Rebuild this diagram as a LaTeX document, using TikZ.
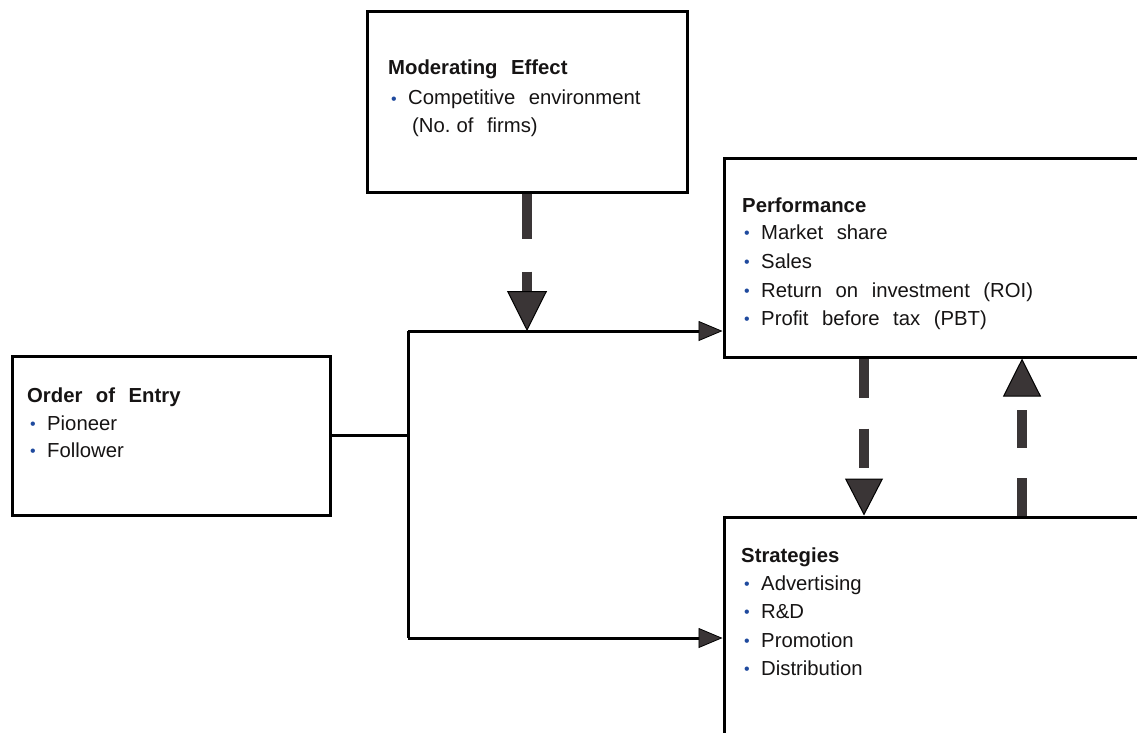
\documentclass[tikz,border=0pt]{standalone}
\usepackage{fontspec}
\setmainfont[WordSpace=2.4]{Liberation Sans}
\usetikzlibrary{arrows.meta}
\frenchspacing
\definecolor{ink}{HTML}{161414}
\definecolor{bul}{HTML}{1F4A9E}
\definecolor{shaft}{HTML}{3A3536}
\newcommand{\bul}{\makebox[17pt][l]{\fontsize{16}{16}\selectfont\color{bul}\raisebox{0.5pt}{•}}}
\begin{document}
\begin{tikzpicture}[x=1pt,y=-1pt,
  box/.style={draw=black,line width=3pt,fill=white,inner sep=0pt},
  txt/.style={anchor=base west,inner sep=0pt,text=ink,font=\fontsize{20.3}{24}\selectfont},
  thinarrow/.style={draw=black,line width=3pt,-{Triangle[width=20pt,length=24pt,line width=0.8pt,color=black,fill=shaft]}},
  thinline/.style={draw=black,line width=3pt},
  thickarrow/.style={draw=shaft,line width=10pt,-{Triangle[width=40pt,length=40pt,line width=1pt,color=black,fill=shaft]}}]
\useasboundingbox (0,0) rectangle (1137,733);
\clip (0,0) rectangle (1137,733);
% boxes
\node[box,minimum width=320pt,minimum height=180pt] (mod) at (527,102) {};
\node[box,minimum width=446pt,minimum height=199pt] (perf) at (947,257.5) {};
\node[box,minimum width=318pt,minimum height=159pt] (order) at (171,435.5) {};
\node[box,minimum width=446pt,minimum height=263pt] (strat) at (947,648.5) {};
% texts
\node[txt] (m1) at (388,75) {\textbf{Moderating Effect}};
\node[txt] (m2) at (391,105) {\bul Competitive environment};
\node[txt] (m3) at (412,132) {(No.\hspace{6pt}of firms)};
\node[txt] (p1) at (742,212) {\textbf{Performance}};
\node[txt] (p2) at (744,239) {\bul Market share};
\node[txt] (p3) at (744,268) {\bul Sales};
\node[txt] (p4) at (744,297) {\bul Return on investment (ROI)};
\node[txt] (p5) at (744,325) {\bul Profit before tax (PBT)};
\node[txt] (o1) at (27,402) {\textbf{Order of Entry}};
\node[txt] (o2) at (30,430) {\bul Pioneer};
\node[txt] (o3) at (30,457) {\bul Follower};
\node[txt] (s1) at (741,562) {\textbf{Strategies}};
\node[txt] (s2) at (744,590) {\bul Advertising};
\node[txt] (s3) at (744,618) {\bul R\&D};
\node[txt] (s4) at (744,647) {\bul Promotion};
\node[txt] (s5) at (744,675) {\bul Distribution};
% junctions
\coordinate (j) at (408,435.5);
\coordinate (jt) at (408,331);
\coordinate (jb) at (408,638);
\coordinate (mj) at (527,331);
\coordinate (xa) at (864,0);
\coordinate (xb) at (1022,0);
% connectors
\draw[thinline] (order.east) -- (j);
\draw[thinline] (jt) -- (jb);
\draw[thinarrow] (jt) -- (perf.west |- jt);
\draw[thinarrow] (jb) -- (strat.west |- jb);
\draw[thickarrow,dash pattern=on 45pt off 33pt] (mod.south) -- (mj);
\draw[thickarrow,dash pattern=on 39pt off 31pt,-{Triangle[width=38pt,length=37pt,line width=1pt,color=black,fill=shaft]}] (perf.south -| xa) -- (strat.north -| xa);
\draw[thickarrow,dash pattern=on 38pt off 30pt,-{Triangle[width=38pt,length=38pt,line width=1pt,color=black,fill=shaft]}] (strat.north -| xb) -- (perf.south -| xb);
\end{tikzpicture}
\end{document}
